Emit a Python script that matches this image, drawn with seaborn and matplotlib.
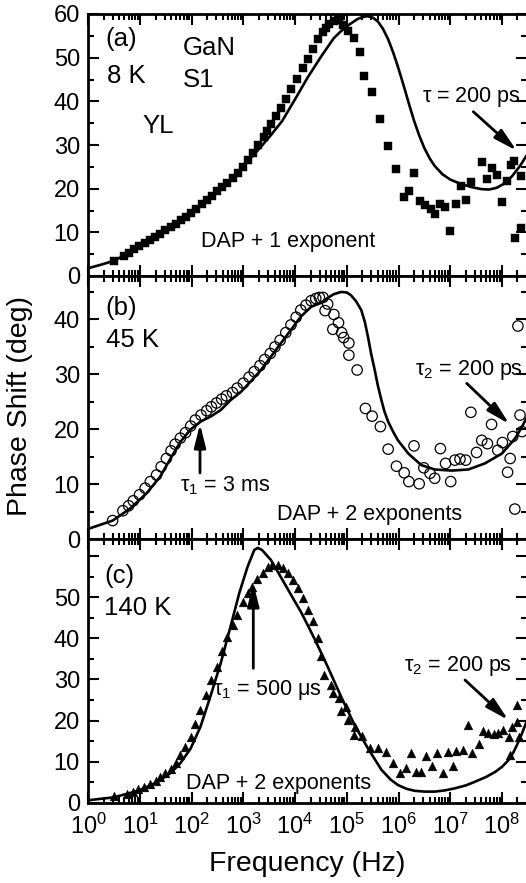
import numpy as np
import pandas as pd
import matplotlib
matplotlib.use("Agg")
import matplotlib.pyplot as plt
import seaborn as sns
from matplotlib.ticker import LogLocator, FixedLocator, NullFormatter, FixedFormatter

# ---------------- data (log10 of frequency in Hz, phase shift in deg) ----------------
# (a) 8 K, filled squares
a_logf = [0.49, 0.69, 0.79, 0.89, 0.99, 1.09, 1.19, 1.29, 1.39, 1.49, 1.59, 1.69, 1.79, 1.89,
          1.99, 2.09, 2.19, 2.29, 2.39, 2.49, 2.59, 2.69, 2.79, 2.89, 2.99, 3.09, 3.19, 3.29,
          3.39, 3.46, 3.53, 3.63, 3.72, 3.83, 3.93, 4.04, 4.15, 4.24, 4.34, 4.44, 4.53, 4.60,
          4.66, 4.75, 4.84, 4.92, 5.02, 5.14, 5.25, 5.34, 5.49, 5.65, 5.80, 5.96, 6.11, 6.20,
          6.30, 6.41, 6.51, 6.62, 6.71, 6.80, 6.90, 7.00, 7.11, 7.21, 7.31, 7.40, 7.61, 7.71,
          7.80, 7.90, 8.00, 8.10, 8.18, 8.23, 8.26, 8.37, 8.37]
a_phase = [3.4, 4.6, 5.3, 6.1, 6.8, 7.6, 8.3, 9.0, 9.7, 10.5, 11.2, 12.0, 12.8, 13.6,
           14.5, 15.4, 16.4, 17.4, 18.4, 19.4, 20.4, 21.4, 22.5, 23.7, 25.0, 26.5, 28.2, 30.0,
           31.8, 33.3, 34.7, 36.6, 38.5, 40.6, 42.9, 45.1, 47.7, 49.7, 52.0, 54.3, 55.8, 56.9,
           57.7, 58.5, 58.7, 57.5, 56.2, 54.4, 51.3, 45.7, 42.1, 36.0, 29.7, 24.4, 18.2, 19.4,
           23.6, 17.1, 16.3, 15.3, 14.3, 16.6, 15.8, 10.2, 16.6, 20.5, 17.5, 21.5, 26.0, 22.1,
           24.8, 23.2, 16.9, 21.7, 25.5, 26.4, 8.7, 23.0, 11.0]
fit_a_logf = [0.0, 0.25, 0.5, 0.75, 1.0, 1.25, 1.5, 1.75, 2.0, 2.25, 2.5, 2.75, 3.0, 3.25, 3.5,
              3.75, 4.0, 4.25, 4.5, 4.75, 4.9, 5.05, 5.2, 5.3, 5.4, 5.5, 5.6, 5.7, 5.8, 5.9,
              6.0, 6.1, 6.2, 6.3, 6.4, 6.5, 6.6, 6.7, 6.85, 7.0, 7.2, 7.4, 7.6, 7.75, 7.9,
              8.05, 8.2, 8.35, 8.5]
fit_a_phase = [1.8, 2.6, 3.5, 5.1, 6.8, 8.6, 10.5, 12.5, 14.5, 16.9, 19.4, 22.1, 25.2, 28.4, 31.8,
               35.5, 40.5, 45.6, 50.2, 54.5, 56.2, 57.6, 58.8, 59.3, 59.5, 59.2, 58.3, 56.6, 54.2, 51.1,
               47.5, 43.6, 39.5, 35.6, 32.2, 29.3, 27.0, 25.2, 23.3, 22.1, 21.1, 20.4, 19.9, 19.8, 20.2,
               21.2, 22.9, 25.2, 28.0]

# (b) 45 K, open circles
b_logf = [0.47, 0.67, 0.78, 0.87, 0.99, 1.10, 1.20, 1.32, 1.41, 1.51, 1.60, 1.68, 1.78, 1.88,
          1.98, 2.07, 2.18, 2.29, 2.38, 2.48, 2.58, 2.67, 2.79, 2.88, 3.00, 3.11, 3.21, 3.32,
          3.41, 3.52, 3.61, 3.71, 3.82, 3.92, 4.02, 4.11, 4.21, 4.31, 4.40, 4.47, 4.54, 4.63,
          4.58, 4.75, 4.84, 4.73, 4.90, 4.94, 5.04, 5.04, 5.20, 5.36, 5.49, 5.65, 5.80, 5.96,
          6.11, 6.20, 6.40, 6.30, 6.49, 6.61, 6.70, 6.81, 6.91, 7.01, 7.09, 7.19, 7.30, 7.40,
          7.51, 7.61, 7.72, 7.80, 7.92, 8.01, 8.11, 8.16, 8.21, 8.25, 8.31, 8.35, 8.39]
b_phase = [3.4, 5.2, 6.1, 7.0, 8.1, 9.3, 10.5, 11.7, 13.2, 14.7, 16.1, 17.3, 18.4, 19.4,
           20.6, 21.7, 22.6, 23.4, 24.1, 24.8, 25.5, 26.1, 26.7, 27.5, 28.4, 29.5, 30.5, 31.6,
           32.7, 33.8, 35.0, 36.2, 37.6, 39.0, 40.4, 41.7, 42.6, 43.4, 43.8, 44.0, 44.0, 42.8,
           41.6, 40.9, 39.4, 38.2, 37.6, 36.7, 35.7, 33.5, 30.8, 23.8, 22.4, 20.5, 16.4, 13.3,
           12.1, 10.5, 10.1, 17.0, 13.0, 12.0, 11.1, 16.5, 13.8, 10.5, 14.4, 14.6, 14.4, 23.1,
           15.8, 18.0, 17.4, 20.9, 16.2, 17.6, 12.2, 14.7, 18.7, 5.5, 38.8, 22.6, 19.6]
fit_b_logf = [0.0, 0.47, 0.81, 1.13, 1.39, 1.59, 1.78, 1.98, 2.17, 2.36, 2.56, 2.75, 2.95, 3.14,
              3.34, 3.53, 3.72, 3.92, 4.11, 4.31, 4.5, 4.63, 4.75, 4.89, 5.0, 5.08, 5.18, 5.28,
              5.35, 5.41, 5.47, 5.54, 5.6, 5.67, 5.73, 5.8, 5.9, 5.99, 6.19, 6.44, 6.7, 7.03,
              7.35, 7.67, 8.0, 8.26, 8.39, 8.5]
fit_b_phase = [1.9, 3.4, 5.6, 8.4, 11.4, 14.7, 17.7, 20.0, 21.4, 22.3, 23.5, 25.3, 26.8, 28.7,
               30.8, 33.2, 35.6, 38.1, 40.5, 42.3, 43.0, 43.9, 44.6, 45.0, 44.9, 44.4, 43.3, 41.7,
               39.5, 36.8, 33.8, 30.8, 28.0, 25.3, 23.2, 21.4, 19.5, 18.0, 15.6, 13.5, 12.7, 12.5,
               12.7, 13.8, 15.6, 18.4, 20.5, 22.5]

# (c) 140 K, filled triangles
c_logf = [0.49, 0.75, 0.86, 0.97, 1.08, 1.20, 1.30, 1.39, 1.49, 1.59, 1.69, 1.78, 1.88, 1.98,
          2.07, 2.17, 2.27, 2.38, 2.48, 2.59, 2.69, 2.79, 2.88, 2.99, 3.08, 3.17, 3.27, 3.37,
          3.47, 3.56, 3.66, 3.76, 3.86, 3.95, 4.05, 4.15, 4.24, 4.34, 4.44, 4.50, 4.55, 4.70,
          4.73, 4.84, 4.99, 4.89, 5.02, 5.15, 5.13, 5.30, 5.44, 5.60, 5.76, 5.89, 6.02, 6.15,
          6.25, 6.33, 6.43, 6.54, 6.64, 6.74, 6.87, 6.96, 7.06, 7.12, 7.25, 7.35, 7.42, 7.55,
          7.63, 7.74, 7.84, 7.93, 8.03, 8.13, 8.16, 8.19, 8.29, 8.29, 8.34]
c_phase = [1.6, 2.1, 2.7, 3.3, 3.7, 4.5, 5.4, 6.2, 7.2, 8.2, 9.7, 11.6, 13.6, 16.1,
           19.1, 22.6, 26.2, 29.9, 33.1, 36.8, 40.4, 43.3, 45.7, 48.9, 51.0, 52.6, 54.4, 55.8,
           57.3, 57.9, 57.9, 57.1, 55.8, 54.2, 52.2, 49.8, 46.9, 44.1, 40.0, 35.7, 31.1, 28.7,
           26.6, 25.4, 23.4, 22.2, 20.1, 18.5, 16.5, 16.2, 13.2, 13.4, 12.4, 9.6, 7.3, 8.4,
           12.2, 7.5, 7.5, 11.4, 8.9, 12.0, 7.3, 12.3, 8.9, 12.7, 12.8, 18.8, 12.2, 14.4,
           17.5, 16.9, 16.7, 16.9, 17.7, 16.1, 11.6, 18.5, 23.8, 19.7, 16.1]
fit_c_logf = [0.0, 0.49, 0.97, 1.33, 1.59, 1.78, 1.98, 2.17, 2.36, 2.56, 2.75, 2.92, 3.08, 3.21,
              3.28, 3.36, 3.53, 3.72, 3.98, 4.11, 4.24, 4.37, 4.5, 4.63, 4.89, 5.15, 5.41, 5.67,
              5.85, 5.99, 6.15, 6.31, 6.5, 6.7, 6.9, 7.09, 7.3, 7.48, 7.7, 7.87, 8.0, 8.13, 8.22,
              8.29, 8.39, 8.5]
fit_c_phase = [0.6, 1.3, 2.9, 5.0, 7.2, 9.6, 13.2, 18.5, 25.8, 33.9, 42.8, 51.0, 57.4, 61.5,
               62.0, 61.5, 59.1, 55.0, 49.3, 46.5, 43.3, 40.0, 36.6, 33.1, 25.8, 18.9, 13.2, 8.0,
               5.6, 4.3, 3.4, 2.9, 2.7, 2.7, 3.0, 3.5, 4.2, 5.1, 6.3, 7.5, 8.7, 10.4, 12.2,
               14.0, 16.9, 20.5]

y_ticks = {"a": [0, 10, 20, 30, 40, 50, 60], "b": [0, 10, 20, 30, 40], "c": [0, 10, 20, 30, 40, 50, 60]}
y_tick_labels = {"a": ["0", "10", "20", "30", "40", "50", "60"],
                 "b": ["0", "10", "20", "30", "40"],
                 "c": ["0", "10", "20", "30", "40", "50", ""]}
y_limits = {"a": (0, 60), "b": (0, 47.9), "c": (0, 64.1)}

# ---------------- style ----------------
sns.set_theme(style="ticks")
plt.rcParams["font.family"] = ["Liberation Sans", "DejaVu Sans"]
plt.rcParams["mathtext.fontset"] = "custom"
plt.rcParams["mathtext.rm"] = "Liberation Sans"
plt.rcParams["mathtext.it"] = "Liberation Sans:italic"
plt.rcParams["mathtext.sf"] = "Liberation Sans"
plt.rcParams["mathtext.default"] = "regular"

W, H = 526, 883
fig = plt.figure(figsize=(W / 100, H / 100), dpi=100)
fig.patch.set_facecolor("white")

left_px, right_px = 88.3, 527.0
decade_px = 51.7
xmax = 10 ** ((right_px - left_px) / decade_px)
bands = {"a": (14.0, 276.0), "b": (276.0, 539.3), "c": (539.3, 802.7)}

axes = {}
for key, (top, bot) in bands.items():
    ax = fig.add_axes([left_px / W, 1 - bot / H, (right_px - left_px) / W, (bot - top) / H])
    axes[key] = ax

def to_df(logf, phase):
    return pd.DataFrame({"freq": np.power(10.0, np.asarray(logf, dtype=float)),
                         "phase": np.asarray(phase, dtype=float)})

# Panel (a)
sns.lineplot(data=to_df(fit_a_logf, fit_a_phase), x="freq", y="phase", ax=axes["a"],
             color="black", lw=1.9, estimator=None, zorder=2)
sns.scatterplot(data=to_df(a_logf, a_phase), x="freq", y="phase", ax=axes["a"],
                marker="s", s=30, color="black", edgecolor="black", linewidth=0.3, zorder=3)
# Panel (b)
sns.lineplot(data=to_df(fit_b_logf, fit_b_phase), x="freq", y="phase", ax=axes["b"],
             color="black", lw=1.9, estimator=None, zorder=2)
sns.scatterplot(data=to_df(b_logf, b_phase), x="freq", y="phase", ax=axes["b"],
                marker="o", s=56, facecolor="none", edgecolor="black", linewidth=0.9, zorder=3)
# Panel (c)
sns.lineplot(data=to_df(fit_c_logf, fit_c_phase), x="freq", y="phase", ax=axes["c"],
             color="black", lw=1.9, estimator=None, zorder=2)
sns.scatterplot(data=to_df(c_logf, c_phase), x="freq", y="phase", ax=axes["c"],
                marker="^", s=40, color="black", edgecolor="black", linewidth=0.3, zorder=3)

for key, ax in axes.items():
    ax.set_xscale("log")
    ax.set_xlim(1, xmax)
    ax.set_ylim(*y_limits[key])
    ax.xaxis.set_major_locator(LogLocator(base=10, numticks=20))
    ax.xaxis.set_minor_locator(LogLocator(base=10, subs=np.arange(2, 10), numticks=20))
    ax.yaxis.set_major_locator(FixedLocator(y_ticks[key]))
    ax.yaxis.set_major_formatter(FixedFormatter(y_tick_labels[key]))
    ax.yaxis.set_minor_locator(FixedLocator([v + 5 for v in y_ticks[key]]))
    ax.yaxis.set_minor_formatter(NullFormatter())
    ax.tick_params(which="both", direction="in", top=True, right=True, width=1.5,
                   colors="black", labelsize=17)
    ax.tick_params(which="major", length=8, pad=6)
    ax.tick_params(which="minor", length=4.5)
    ax.set_xlabel("")
    ax.set_ylabel("")
    for sp in ax.spines.values():
        sp.set_linewidth(2.0)
        sp.set_color("black")
    ax.set_facecolor("white")
    if key != "c":
        ax.tick_params(axis="x", which="both", labelbottom=False)
    else:
        ax.tick_params(axis="x", which="major", pad=8)
        ax.xaxis.set_minor_formatter(NullFormatter())

# axis titles
fig.text(20 / W, 1 - 406 / H, "Phase Shift (deg)", rotation=90, ha="center", va="center",
         fontsize=20.5, color="black")
fig.text(307 / W, 1 - 864 / H, "Frequency (Hz)", ha="center", va="center",
         fontsize=20.5, color="black")

def label(xp, yp_base, s, size):
    fig.text(xp / W, 1 - yp_base / H, s, ha="left", va="baseline", fontsize=size, color="black")

big, small = 18.5, 15.5
# panel a labels
label(105, 45.7, "(a)", big)
label(182.7, 55, "GaN", big)
label(107.3, 83.3, "8 K", big)
label(183.3, 87.3, "S1", big)
label(142.7, 132.7, "YL", big)
label(201, 246.7, "DAP + 1 exponent", small)
label(421.7, 101.7, r"$\tau$ = 200 ps", small)
# panel b labels
label(105, 315, "(b)", big)
label(106, 346.7, "45 K", big)
label(180, 491.7, r"$\tau_1$ = 3 ms", small)
label(277.3, 520, "DAP + 2 exponents", small)
label(415, 375, r"$\tau_2$ = 200 ps", small)
# panel c labels
label(104, 583.3, "(c)", big)
label(104, 615, "140 K", big)
label(213.3, 695, r"$\tau_1$ = 500 μs", small)
label(185.7, 789.3, "DAP + 2 exponents", small)
label(404, 670.7, r"$\tau_2$ = 200 ps", small)

def arrow(x0, y0, x1, y1):
    fig.add_artist(matplotlib.patches.FancyArrowPatch(
        (x0 / W, 1 - y0 / H), (x1 / W, 1 - y1 / H), transform=fig.transFigure,
        arrowstyle="-|>,head_length=1.4,head_width=0.35", mutation_scale=10,
        lw=2.0, color="black", shrinkA=0, shrinkB=0))

arrow(473.3, 111.7, 516.7, 150.7)
arrow(200, 473, 200, 424)
arrow(466.7, 383.3, 509.3, 424)
arrow(253.3, 668.3, 253.3, 583)
arrow(465, 680, 508.3, 720)

fig.savefig("out.png", dpi=100, facecolor="white")
